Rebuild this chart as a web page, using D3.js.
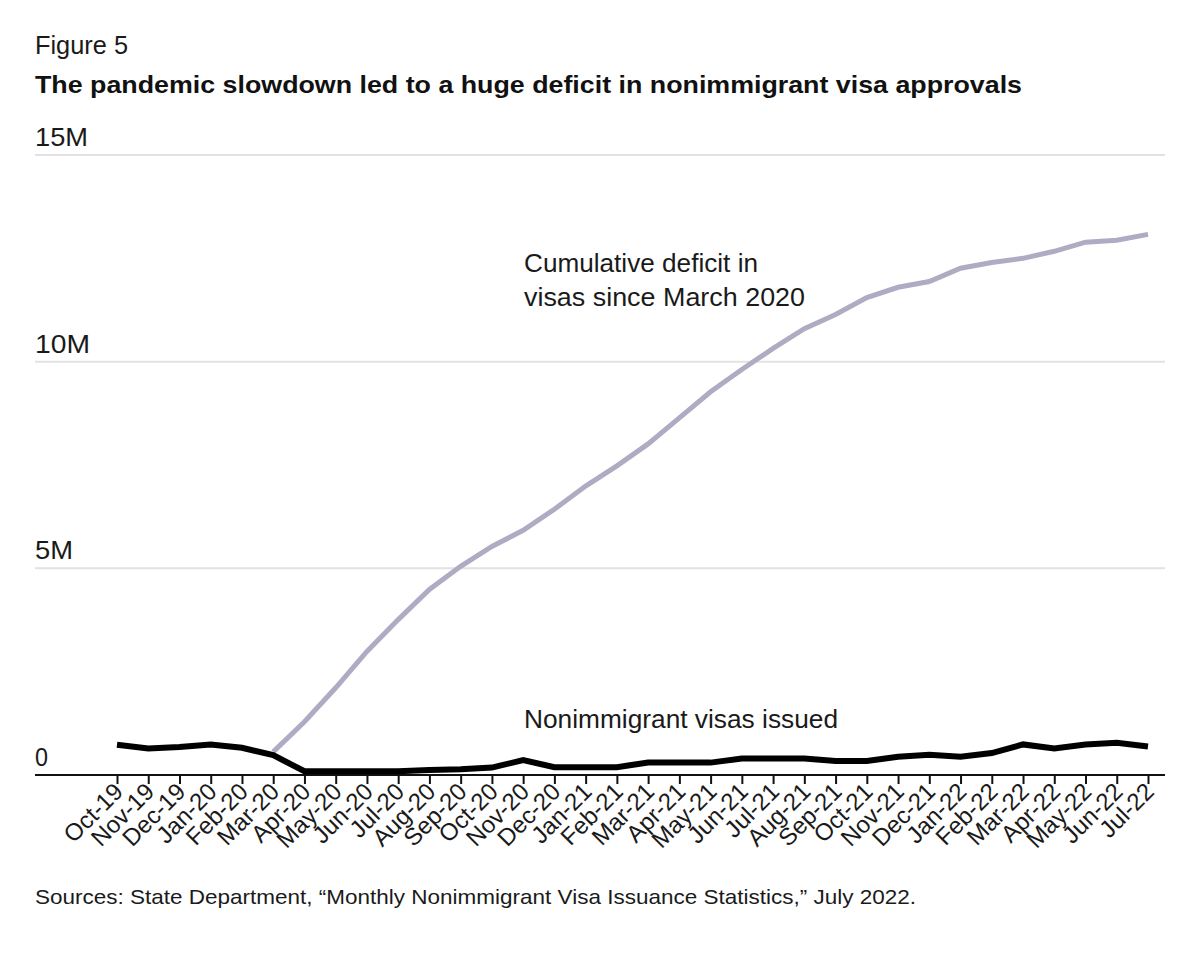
<!DOCTYPE html>
<html>
<head>
<meta charset="utf-8">
<script src="https://cdn.jsdelivr.net/npm/d3@7"></script>
<style>
  body { margin: 0; background: #fff; }
  svg { display: block; font-family: "Liberation Sans", Arial, sans-serif; }
</style>
</head>
<body>
<svg id="chart" width="1200" height="954"></svg>
<script>
// month labels along the x axis
var months = ['Oct-19', 'Nov-19', 'Dec-19', 'Jan-20', 'Feb-20', 'Mar-20', 'Apr-20', 'May-20',
    'Jun-20', 'Jul-20', 'Aug-20', 'Sep-20', 'Oct-20', 'Nov-20', 'Dec-20', 'Jan-21', 'Feb-21',
    'Mar-21', 'Apr-21', 'May-21', 'Jun-21', 'Jul-21', 'Aug-21', 'Sep-21', 'Oct-21', 'Nov-21',
    'Dec-21', 'Jan-22', 'Feb-22', 'Mar-22', 'Apr-22', 'May-22', 'Jun-22', 'Jul-22'];

// nonimmigrant visas issued, millions
var issued = [0.73, 0.64, 0.68, 0.74, 0.66, 0.48, 0.09, 0.09, 0.09, 0.09, 0.12, 0.14, 0.18,
    0.36, 0.19, 0.19, 0.19, 0.30, 0.30, 0.30, 0.40, 0.40, 0.40, 0.34, 0.34, 0.44, 0.49, 0.44,
    0.53, 0.74, 0.64, 0.74, 0.78, 0.69];

// cumulative deficit since March 2020, millions (starts at Mar-20)
var deficitStart = 'Mar-20';
var deficit = [0.56, 1.29, 2.11, 2.99, 3.76, 4.49, 5.05, 5.53, 5.92, 6.43, 6.99, 7.48, 8.01,
    8.64, 9.27, 9.81, 10.32, 10.80, 11.14, 11.55, 11.80, 11.94, 12.26, 12.40, 12.50, 12.67,
    12.89, 12.94, 13.08];

var yTicks = [0, 5, 10, 15];
var yTickLabels = ['0', '5M', '10M', '15M'];

var svg = d3.select('#chart');

var x = d3.scalePoint()
    .domain(months)
    .range([117, 1148]);

var y = d3.scaleLinear()
    .domain([0, 15])
    .range([775, 155]);

// helper: text squeezed/stretched to the width seen in the original
function label(txt, px, py, size, width) {
    var t = svg.append('text')
        .text(txt)
        .attr('x', px)
        .attr('y', py)
        .attr('fill', '#1a1a1a')
        .attr('font-size', size);
    if (width) {
        t.attr('textLength', width).attr('lengthAdjust', 'spacingAndGlyphs');
    }
    return t;
}

// header
label('Figure 5', 35, 54, 25, 93);
label('The pandemic slowdown led to a huge deficit in nonimmigrant visa approvals', 35, 93, 24, 987)
    .attr('font-weight', 'bold')
    .attr('fill', '#111');

// gridlines + y labels
var yLabelWidths = [13, 38, 55, 53];
yTicks.forEach(function (t, i) {
    if (t > 0) {
        svg.append('line')
            .attr('x1', 35)
            .attr('x2', 1165)
            .attr('y1', y(t))
            .attr('y2', y(t))
            .attr('stroke', '#e2e2e2')
            .attr('stroke-width', 2);
    }
    label(yTickLabels[i], 35, y(t) - 9, 25, yLabelWidths[i]);
});

// x axis
var xAxis = svg.append('g')
    .attr('transform', 'translate(0,' + y(0) + ')')
    .call(d3.axisBottom(x).tickSize(9).tickSizeOuter(0));

xAxis.select('.domain').remove();
xAxis.append('line')
    .attr('x1', 35)
    .attr('x2', 1165)
    .attr('stroke', '#111')
    .attr('stroke-width', 2);
xAxis.selectAll('.tick line')
    .attr('stroke', '#111')
    .attr('stroke-width', 2);
xAxis.selectAll('.tick text')
    .attr('font-family', '"Liberation Sans", Arial, sans-serif')
    .attr('font-size', 24)
    .attr('fill', '#1a1a1a')
    .attr('text-anchor', 'end')
    .attr('dy', 0)
    .attr('transform', 'translate(7,18) rotate(-45)')
    .attr('y', 0)
    .attr('x', 0);

// lines
var line = d3.line()
    .x(function (d) { return x(d.m); })
    .y(function (d) { return y(d.v); });

var startIdx = months.indexOf(deficitStart);
var deficitData = deficit.map(function (v, i) { return { m: months[startIdx + i], v: v }; });
var issuedData = issued.map(function (v, i) { return { m: months[i], v: v }; });

svg.append('path')
    .datum(deficitData)
    .attr('d', line)
    .attr('fill', 'none')
    .attr('stroke', '#aeacc3')
    .attr('stroke-width', 5);

svg.append('path')
    .datum(issuedData)
    .attr('d', line)
    .attr('fill', 'none')
    .attr('stroke', '#000')
    .attr('stroke-width', 6);

// annotations
label('Cumulative deficit in', 524, 272, 25, 234);
label('visas since March 2020', 524, 306, 25, 281);
label('Nonimmigrant visas issued', 524, 728, 25, 314);

// source
label('Sources: State Department, \u201cMonthly Nonimmigrant Visa Issuance Statistics,\u201d July 2022.', 35, 904, 21, 881);
</script>
</body>
</html>
